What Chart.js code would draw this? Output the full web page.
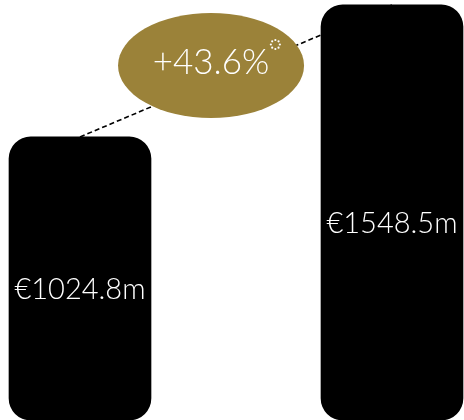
<!DOCTYPE html>
<html>
<head>
<meta charset="utf-8">
<script src="https://cdn.jsdelivr.net/npm/chart.js@4.4.1/dist/chart.umd.min.js"></script>
<style>
  html, body { margin: 0; padding: 0; background: #ffffff; }
  #wrap { width: 464px; height: 420px; position: relative; }
</style>
</head>
<body>
<div id="wrap"><canvas id="c" width="464" height="420"></canvas></div>
<script>
// Revenue in € millions for the two periods
const categories = ['Before', 'After'];
const revenue = [1024.8, 1548.5];
const valueLabels = ['€1024.8m', '€1548.5m'];
const growthLabel = '+43.6%';

// Value axis range; bars rise from the bottom of the axis
const axisMin = -98;
const axisMax = 1568;

const GOLD = '#9b8239';
const LABEL_FONT = '300 29px Lato, "Open Sans", sans-serif';
const GROWTH_FONT = '300 35px Lato, "Open Sans", sans-serif';

// small dotted ring used as a footnote marker
function dottedRing(ctx, x, y, r, n, dot) {
  for (let k = 0; k < n; k++) {
    const a = (k / n) * Math.PI * 2;
    ctx.beginPath();
    ctx.arc(x + r * Math.cos(a), y + r * Math.sin(a), dot, 0, Math.PI * 2);
    ctx.fill();
  }
}

const overlay = {
  id: 'overlay',
  afterDatasetsDraw(chart) {
    const ctx = chart.ctx;
    const bars = chart.getDatasetMeta(1).data;

    // value labels inside each bar
    ctx.save();
    ctx.fillStyle = '#ffffff';
    ctx.font = LABEL_FONT;
    ctx.textAlign = 'center';
    ctx.textBaseline = 'middle';
    bars.forEach((bar, i) => {
      const mid = (bar.y + bar.base) / 2 + 11;
      ctx.fillText(valueLabels[i], bar.x, mid);
    });
    ctx.restore();

    // growth badge sitting over the connecting line
    const x = chart.scales.x;
    const y = chart.scales.y;
    const t = 0.42;
    const cx = x.getPixelForValue(t);
    const lineY = y.getPixelForValue(revenue[0]) +
      t * (y.getPixelForValue(revenue[1]) - y.getPixelForValue(revenue[0]));
    const cy = lineY - 16;

    ctx.save();
    ctx.fillStyle = GOLD;
    ctx.beginPath();
    ctx.ellipse(cx, cy, 93, 52.5, 0, 0, Math.PI * 2);
    ctx.fill();

    ctx.fillStyle = '#ffffff';
    ctx.font = GROWTH_FONT;
    ctx.textAlign = 'center';
    ctx.textBaseline = 'middle';
    ctx.fillText(growthLabel, cx, cy - 3);
    const w = ctx.measureText(growthLabel).width;

    dottedRing(ctx, cx + w / 2 + 6, cy - 21, 4.5, 8, 1.1);
    ctx.restore();
  }
};

new Chart(document.getElementById('c'), {
  data: {
    labels: categories,
    datasets: [
      {
        type: 'line',
        data: revenue,
        borderColor: '#000000',
        borderWidth: 1.6,
        borderDash: [5, 3],
        pointRadius: 0,
        fill: false,
        clip: false,
        order: 0
      },
      {
        type: 'bar',
        data: revenue,
        backgroundColor: '#000000',
        barThickness: 142,
        borderRadius: 22,
        borderSkipped: false,
        base: axisMin,
        clip: false,
        order: 1
      }
    ]
  },
  options: {
    responsive: false,
    animation: false,
    devicePixelRatio: 1,
    layout: { padding: { left: 80, right: 72, top: 0, bottom: 0 } },
    plugins: { legend: { display: false }, tooltip: { enabled: false } },
    scales: {
      x: { display: false, offset: false, grid: { display: false } },
      y: { display: false, min: axisMin, max: axisMax, grid: { display: false } }
    }
  },
  plugins: [overlay]
});
</script>
</body>
</html>
